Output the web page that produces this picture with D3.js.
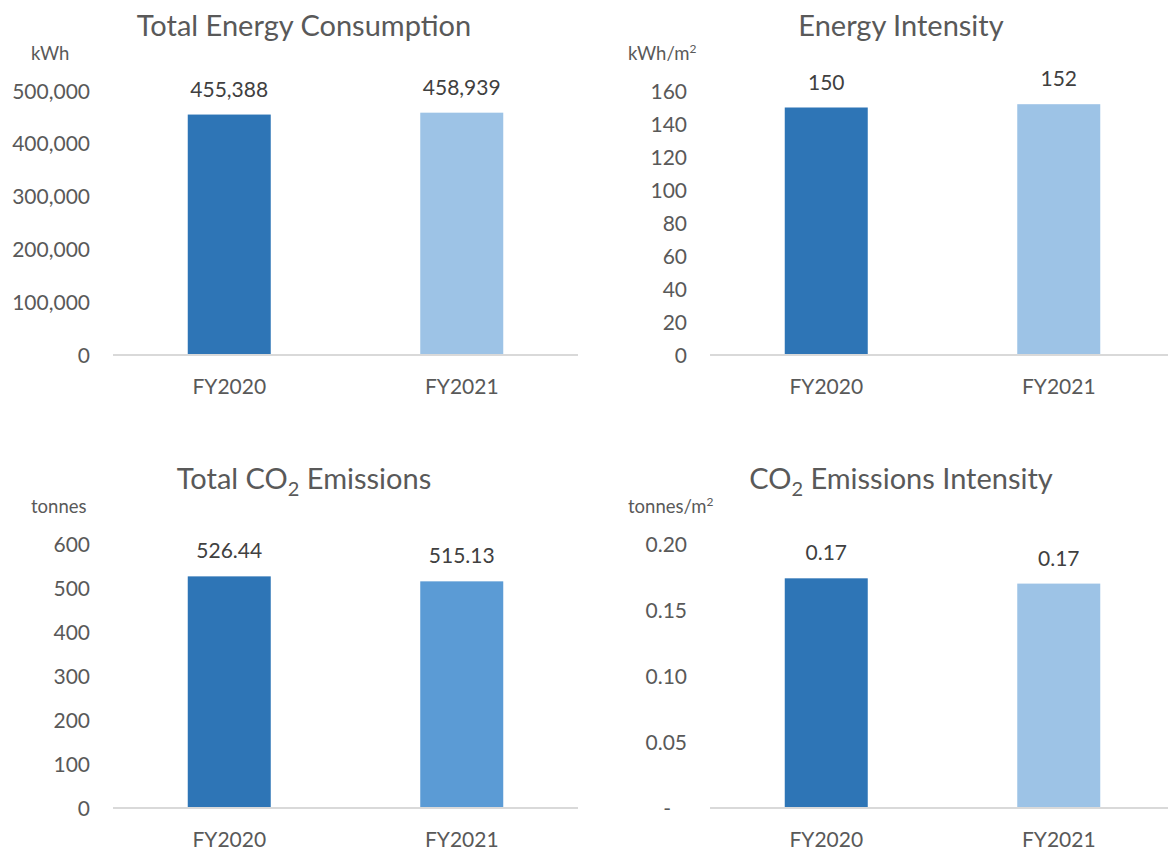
<!DOCTYPE html>
<html>
<head>
<meta charset="utf-8">
<script src="https://cdn.jsdelivr.net/npm/d3@7"></script>
<style>
  html, body { margin: 0; padding: 0; background: #fff; }
  svg { display: block; font-family: Lato, "Open Sans", sans-serif; }
</style>
</head>
<body>
<svg id="chart" width="1168" height="853"></svg>
<script>
// ---- data ----
const categories = ["FY2020", "FY2021"];

const energyValues = [455388, 458939];
const energyTicks = [0, 100000, 200000, 300000, 400000, 500000];

const intensityValues = [150, 152];
const intensityTicks = [0, 20, 40, 60, 80, 100, 120, 140, 160];

const co2Values = [526.44, 515.13];
const co2Ticks = [0, 100, 200, 300, 400, 500, 600];

const co2IntensityValues = [0.174, 0.170];
const co2IntensityTicks = [0, 0.05, 0.10, 0.15, 0.20];

const darkBlue = "#2E75B6", lightBlue = "#9DC3E6", midBlue = "#5B9BD5";
const textColor = "#595959";

const panels = [
  { ox: 0, oy: 0, title: [["Total Energy Consumption", false]], unit: ["kWh", null],
    values: energyValues, ticks: energyTicks, max: 500000,
    tickFmt: d3.format(","), valFmt: d3.format(","), colors: [darkBlue, lightBlue] },
  { ox: 597, oy: 0, title: [["Energy Intensity", false]], unit: ["kWh/m", "2"],
    values: intensityValues, ticks: intensityTicks, max: 160,
    tickFmt: d3.format("d"), valFmt: d3.format("d"), colors: [darkBlue, lightBlue] },
  { ox: 0, oy: 453, title: [["Total CO", false], ["2", true], [" Emissions", false]], unit: ["tonnes", null],
    values: co2Values, ticks: co2Ticks, max: 600,
    tickFmt: d3.format("d"), valFmt: d3.format(".2f"), colors: [darkBlue, midBlue] },
  { ox: 597, oy: 453, title: [["CO", false], ["2", true], [" Emissions Intensity", false]], unit: ["tonnes/m", "2"],
    values: co2IntensityValues, ticks: co2IntensityTicks, max: 0.2,
    tickFmt: d => d === 0 ? "-" : d3.format(".2f")(d), valFmt: d3.format(".2f"), colors: [darkBlue, lightBlue] }
];

const svg = d3.select("#chart");

panels.forEach(p => {
  const g = svg.append("g").attr("transform", `translate(${p.ox},${p.oy})`);

  const x = d3.scaleBand().domain(categories).range([113, 578])
    .paddingInner(0.643).paddingOuter(0.3215);
  const y = d3.scaleLinear().domain([0, p.max]).range([355, 91]);

  // title
  const t = g.append("text").attr("x", 304).attr("y", 36)
    .attr("text-anchor", "middle").attr("fill", textColor)
    .style("font-size", "29px");
  p.title.forEach(([s, sub]) => {
    if (sub) {
      t.append("tspan").attr("dy", 7).style("font-size", "20px").text(s);
    } else {
      const ts = t.append("tspan").text(s);
      if (s.startsWith(" ")) ts.attr("dy", -7);
    }
  });

  // unit
  const u = g.append("text").attr("x", 31).attr("y", 60)
    .attr("fill", textColor).style("font-size", "18.5px");
  u.append("tspan").text(p.unit[0]);
  if (p.unit[1]) u.append("tspan").attr("dy", -7).style("font-size", "12px").text(p.unit[1]);

  // y axis (labels only)
  const yAxis = d3.axisLeft(y).tickValues(p.ticks).tickFormat(p.tickFmt).tickSize(0).tickPadding(0);
  const ya = g.append("g").attr("transform", "translate(90,0)").call(yAxis);
  ya.select(".domain").remove();
  ya.selectAll("text").attr("fill", textColor).style("font-size", "21px")
    .attr("font-family", "Lato, 'Open Sans', sans-serif")
    .attr("dy", "0.34em")
    .attr("dx", d => d === 0 && p.tickFmt(d) === "-" ? -16 : 0);

  // bars
  g.selectAll("rect.bar").data(p.values).join("rect").attr("class", "bar")
    .attr("x", (d, i) => x(categories[i]))
    .attr("width", x.bandwidth())
    .attr("y", d => y(d))
    .attr("height", d => y(0) - y(d))
    .attr("fill", (d, i) => p.colors[i]);

  // baseline axis
  const xAxis = d3.axisBottom(x).tickSize(0).tickPadding(0);
  const xa = g.append("g").attr("transform", `translate(0,${y(0)})`).call(xAxis);
  xa.select(".domain").attr("stroke", "#D9D9D9").attr("stroke-width", 2)
    .attr("d", `M113,0H${p.ox > 0 ? 600 : 578}`);
  xa.selectAll("text").attr("fill", textColor).style("font-size", "21px")
    .attr("font-family", "Lato, 'Open Sans', sans-serif")
    .attr("dy", null).attr("y", 39);

  // value labels
  g.selectAll("text.val").data(p.values).join("text").attr("class", "val")
    .attr("x", (d, i) => x(categories[i]) + x.bandwidth() / 2)
    .attr("y", d => y(d) - 18)
    .attr("text-anchor", "middle").attr("fill", "#404040")
    .style("font-size", "21px").text(d => p.valFmt(d));
});
</script>
</body>
</html>
